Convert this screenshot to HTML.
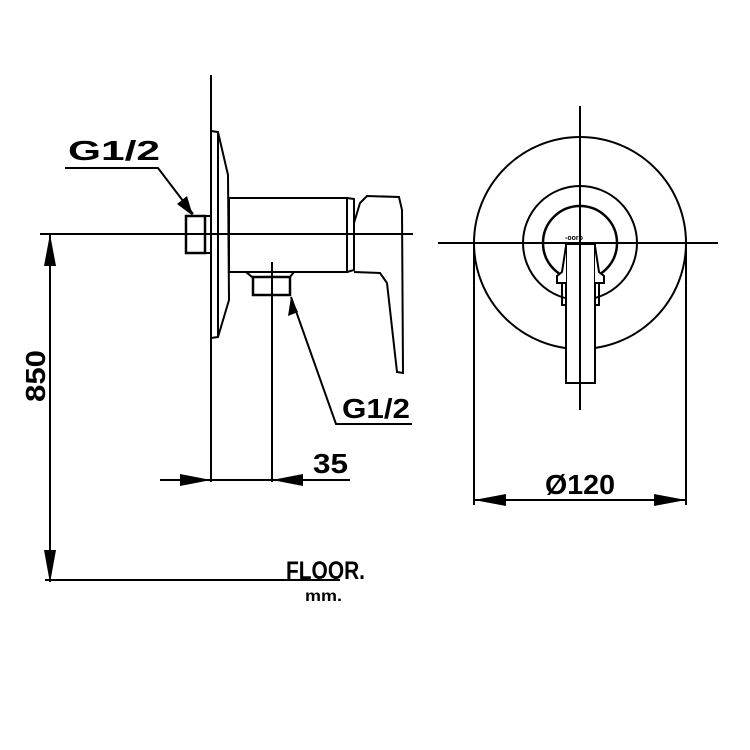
<!DOCTYPE html>
<html><head><style>html,body{margin:0;padding:0;background:#fff}svg{display:block}</style></head>
<body>
<svg width="750" height="750" viewBox="0 0 750 750" xmlns="http://www.w3.org/2000/svg" font-family="Liberation Sans, sans-serif" font-weight="bold">
<g stroke="#000" stroke-width="2" fill="none">
<line x1="211" y1="75" x2="211" y2="482"/>
<line x1="40" y1="234" x2="413" y2="234"/>
<path d="M211,131 L218,132 L228,175 L229,300 L218,337 L211,338"/>
<line x1="218" y1="133" x2="218" y2="336"/>
<rect x="229" y="198" width="118" height="74"/>
<path d="M347,198 L354,199 L354,270 L347,272"/>
<path d="M354,272 L380,273 L387,283 L397,372 L403,373 L402,210 L399,197 L367,196 L360,203 L354,223"/>
<path d="M246,272 L252,277 L290,277 L294,272"/>
<rect x="253" y="277" width="37" height="18" stroke-width="2.5"/>
<line x1="272" y1="262" x2="272" y2="482"/>
<rect x="186" y="216" width="19" height="37" stroke-width="2.5"/>
<line x1="205" y1="216" x2="211" y2="216"/><line x1="205" y1="253" x2="211" y2="253"/>
<polyline points="65,168 158,168 193,214"/>
<polyline points="291,297 336,424 412,424"/>
<line x1="160" y1="480" x2="350" y2="480"/>
<line x1="50" y1="234" x2="50" y2="582"/>
<line x1="45" y1="580" x2="340" y2="580"/>
<circle cx="580" cy="243" r="106"/>
<circle cx="580" cy="243" r="57"/>
<circle cx="580" cy="243" r="37" stroke-width="2.5"/>
<line x1="438" y1="243" x2="718" y2="243"/>
<line x1="474" y1="243" x2="474" y2="505"/>
<line x1="686" y1="243" x2="686" y2="505"/>
<line x1="474" y1="500" x2="686" y2="500"/>
<rect x="566" y="244" width="29" height="139" fill="#fff"/>
<path d="M566,246 L562,272 L557,276 L557,283 L566,283" fill="#fff"/>
<path d="M595,246 L599,272 L604,276 L604,283 L595,283" fill="#fff"/>
<rect x="562" y="283" width="4" height="22"/><rect x="595" y="283" width="4" height="22"/>
</g>
<line x1="580" y1="106" x2="580" y2="410" stroke="#000" stroke-width="2"/>
<text x="565" y="240" font-size="7">-ooro</text>
<g fill="#000">
<polygon points="193,216 177,204 187,196"/>
<polygon points="291,297 288,316 298,312"/>
<polygon points="211,480 180,474 180,486"/>
<polygon points="272,480 303,474 303,486"/>
<polygon points="50,234 44,266 56,266"/>
<polygon points="50,583 44,550 56,550"/>
<polygon points="474,500 506,494 506,506"/>
<polygon points="686,500 654,494 654,506"/>
</g>
<g font-size="28">
<text x="68" y="160" textLength="92" lengthAdjust="spacingAndGlyphs">G1/2</text>
<text x="342" y="418" textLength="68" lengthAdjust="spacingAndGlyphs">G1/2</text>
<text x="313" y="473" textLength="35" lengthAdjust="spacingAndGlyphs">35</text>
<text x="545" y="494" textLength="70" lengthAdjust="spacingAndGlyphs">Ø120</text>
<text transform="translate(45,402) rotate(-90)" textLength="52" lengthAdjust="spacingAndGlyphs">850</text>
<text x="286" y="579" font-size="25" textLength="79" lengthAdjust="spacingAndGlyphs">FLOOR.</text>
</g>
<text x="305" y="601" font-size="16" textLength="37" lengthAdjust="spacingAndGlyphs">mm.</text>
</svg>
</body></html>
